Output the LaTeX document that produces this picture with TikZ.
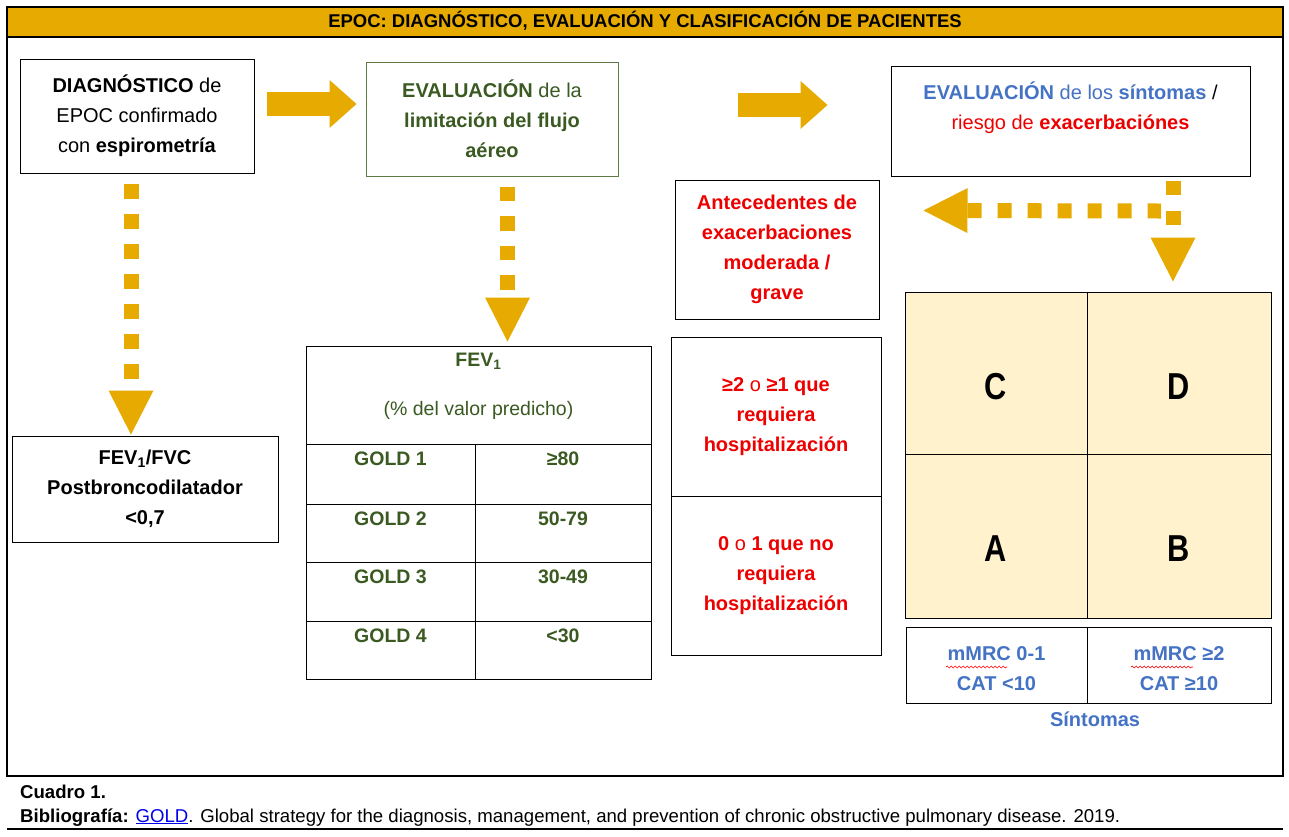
\documentclass[tikz,border=0pt]{standalone}
\usepackage{fontspec}
\setmainfont{Liberation Sans}
\usetikzlibrary{arrows.meta,calc,decorations.pathmorphing}
\definecolor{gold}{HTML}{E6AA00}
\definecolor{dgreen}{HTML}{3B5A22}
\definecolor{egreen}{HTML}{5E7A45}
\definecolor{oblue}{HTML}{4472C4}
\definecolor{ored}{HTML}{EE0000}
\definecolor{beige}{HTML}{FFF2CC}
\definecolor{linkblue}{HTML}{0000EE}
\newcommand\mfs{\fontsize{20}{30}\selectfont}
\newcommand\tfs{\fontsize{19.5}{24}\selectfont}
\newcommand\cfs{\fontsize{18.6}{22}\selectfont}
\newcommand\bigletter[1]{\scalebox{0.82}[1]{\bfseries #1}}
\begin{document}
\begin{tikzpicture}[x=1pt,y=-1pt,
  box/.style={draw=black, line width=1pt, inner sep=0pt, align=center, font=\mfs},
  cellbox/.style={draw=black, line width=1pt, inner sep=0pt},
  gridcell/.style={draw=black, line width=1pt, inner sep=0pt, fill=beige},
  fat/.style={draw=gold, line width=24pt, -{Triangle[length=27pt,width=48pt,line width=0pt]}},
  dotdown/.style={draw=gold, line width=15pt, dash pattern=on 15pt off 15pt, -{Triangle[length=44pt,width=45pt,line width=0pt]}},
  letter/.style={font=\fontsize{37.5}{40}\selectfont},
  tabtxt/.style={font=\tfs\bfseries, text=dgreen},
  bluetxt/.style={font=\mfs\bfseries, text=oblue, align=center},
  wavy/.style={draw=red, line width=0.6pt, decorate, decoration={snake, amplitude=1pt, segment length=4pt}}
]
\useasboundingbox (0,0) rectangle (1289,836);
\fill[white] (0,0) rectangle (1289,836);
% frame and title
\fill[gold] (7,7) rectangle (1283,37);
\draw[line width=1.1pt] (7,7) rectangle (1283,776);
\draw[line width=1.1pt] (7,37) -- (1283,37);
\draw[line width=1.1pt] (7,829) -- (1283,829);
\node[font=\fontsize{18.5}{22}\selectfont\bfseries] (title) at (645,21) {EPOC: DIAGNÓSTICO, EVALUACIÓN Y CLASIFICACIÓN DE PACIENTES};

% main boxes
\node[box, minimum width=234, minimum height=114] (d1) at (137,116)
  {\textbf{DIAGNÓSTICO} de\\EPOC confirmado\\con \textbf{espirometría}};
\node[box, draw=egreen, text=dgreen, minimum width=252, minimum height=114] (e1) at (492,119)
  {\textbf{EVALUACIÓN} de la\\\textbf{limitación del flujo}\\\textbf{aéreo}};
\node[box, minimum width=359, minimum height=110] (s1) at (1070.5,121) {};
\node[font=\mfs, align=center] (s1t) at (1070.5,107.5)
  {\textcolor{oblue}{\textbf{EVALUACIÓN} de los \textbf{síntomas}} /\\\textcolor{ored}{riesgo de \textbf{exacerbaciónes}}};
\node[box, text=ored, font=\mfs\bfseries, minimum width=204, minimum height=139] (ant) at (777,249.5)
  {Antecedentes de\\exacerbaciones\\moderada /\\grave};
\node[box, font=\mfs\bfseries, minimum width=266, minimum height=106] (fvc) at (145,489)
  {FEV\textsubscript{1}/FVC\\Postbroncodilatador\\<0,7};

% FEV1 table
\node[cellbox, minimum width=345, minimum height=98] (th) at (478.5,395) {};
\node[tabtxt] (thA) at (478.5,361) {FEV\textsubscript{1}};
\node[font=\tfs, text=dgreen] (thB) at (478.5,410) {(\% del valor predicho)};
\foreach \i/\t/\b/\v in {1/444/504/≥80, 2/504/562/50-79, 3/562/621/30-49, 4/621/679/<30}{
  \node[cellbox, minimum width=169, minimum height={\b-\t}] (gl\i) at (390.5,{(\t+\b)/2}) {};
  \node[cellbox, minimum width=176, minimum height={\b-\t}] (gr\i) at (563,{(\t+\b)/2}) {};
  \node[tabtxt] (glt\i) at ($(gl\i.north)+(0,15)$) {GOLD \i};
  \node[tabtxt] (grt\i) at ($(gr\i.north)+(0,15)$) {\v};
}

% exacerbation table
\node[box, text=ored, font=\mfs\bfseries, minimum width=210, minimum height=159] (r1) at (776,416.5)
  {≥2 {\mdseries o} ≥1 que\\requiera\\hospitalización};
\node[box, text=ored, font=\mfs\bfseries, minimum width=210, minimum height=159] (r2) at (776,575.5)
  {0 {\mdseries o} 1 que no\\requiera\\hospitalización};

% ABCD grid
\node[gridcell, minimum width=182, minimum height=162] (cC) at (996,373) {};
\node[gridcell, minimum width=184, minimum height=162] (cD) at (1179,373) {};
\node[gridcell, minimum width=182, minimum height=164] (cA) at (996,536) {};
\node[gridcell, minimum width=184, minimum height=164] (cB) at (1179,536) {};
\node[letter] (lC) at ($(cC.center)+(0,13.5)$) {\bigletter{C}};
\node[letter] (lD) at ($(cD.center)+(0,13.5)$) {\bigletter{D}};
\node[letter] (lA) at ($(cA.center)+(0,12.5)$) {\bigletter{A}};
\node[letter] (lB) at ($(cB.center)+(0,12.5)$) {\bigletter{B}};

% symptom cells
\node[cellbox, minimum width=181, minimum height=76] (sl) at (996.5,665) {};
\node[cellbox, minimum width=184, minimum height=76] (sr) at (1179,665) {};
\node[bluetxt] (slt) at ($(sl.center)+(0,4)$) {mMRC 0-1\\CAT <10};
\node[bluetxt] (srt) at ($(sr.center)+(0,4)$) {mMRC ≥2\\CAT ≥10};
\draw[wavy] (946,667) -- (1007,667);
\draw[wavy] (1131,667) -- (1193,667);
\node[bluetxt] (sint) at (1095,719) {Síntomas};

% arrows
\draw[fat] ($(d1.east)+(12,-12)$) -- ($(e1.west)+(-9,-15)$);
\draw[fat] ($(e1.east)+(119,-14)$) -- ($(s1.west)+(-63,-16)$);
\draw[dotdown] ($(d1.south)+(-6,10)$) -- ($(fvc.north)+(-14,-1)$);
\draw[dotdown, dash pattern=on 14.5pt off 15pt] ($(e1.south)+(15.5,10)$) -- ($(th.north)+(29,-4)$);
\coordinate (split) at ($(s1.south)+(102.5,34.5)$);
\draw[dotdown, dash pattern=on 14pt off 16pt] ($(s1.south)+(102.5,4)$) -- ($(cD.north)+(-6,-10)$);
\draw[draw=gold, line width=15pt, dash pattern=on 14pt off 16pt, {Triangle[length=44pt,width=45pt,line width=0pt]}-]
  ($(ant.east)+(44,-39)$) -- ($(split)+(-12,0)$);

% caption
\node[anchor=base west, font=\cfs\bfseries, inner sep=0pt] (cap1) at (20,798) {Cuadro 1.};
\node[anchor=base west, font=\cfs, inner sep=0pt] (cap2) at (20,822)
  {\textbf{Bibliografía:} \textcolor{linkblue}{\underline{GOLD}}. Global strategy for the diagnosis, management, and prevention of chronic obstructive pulmonary disease. 2019.};
\end{tikzpicture}
\end{document}
